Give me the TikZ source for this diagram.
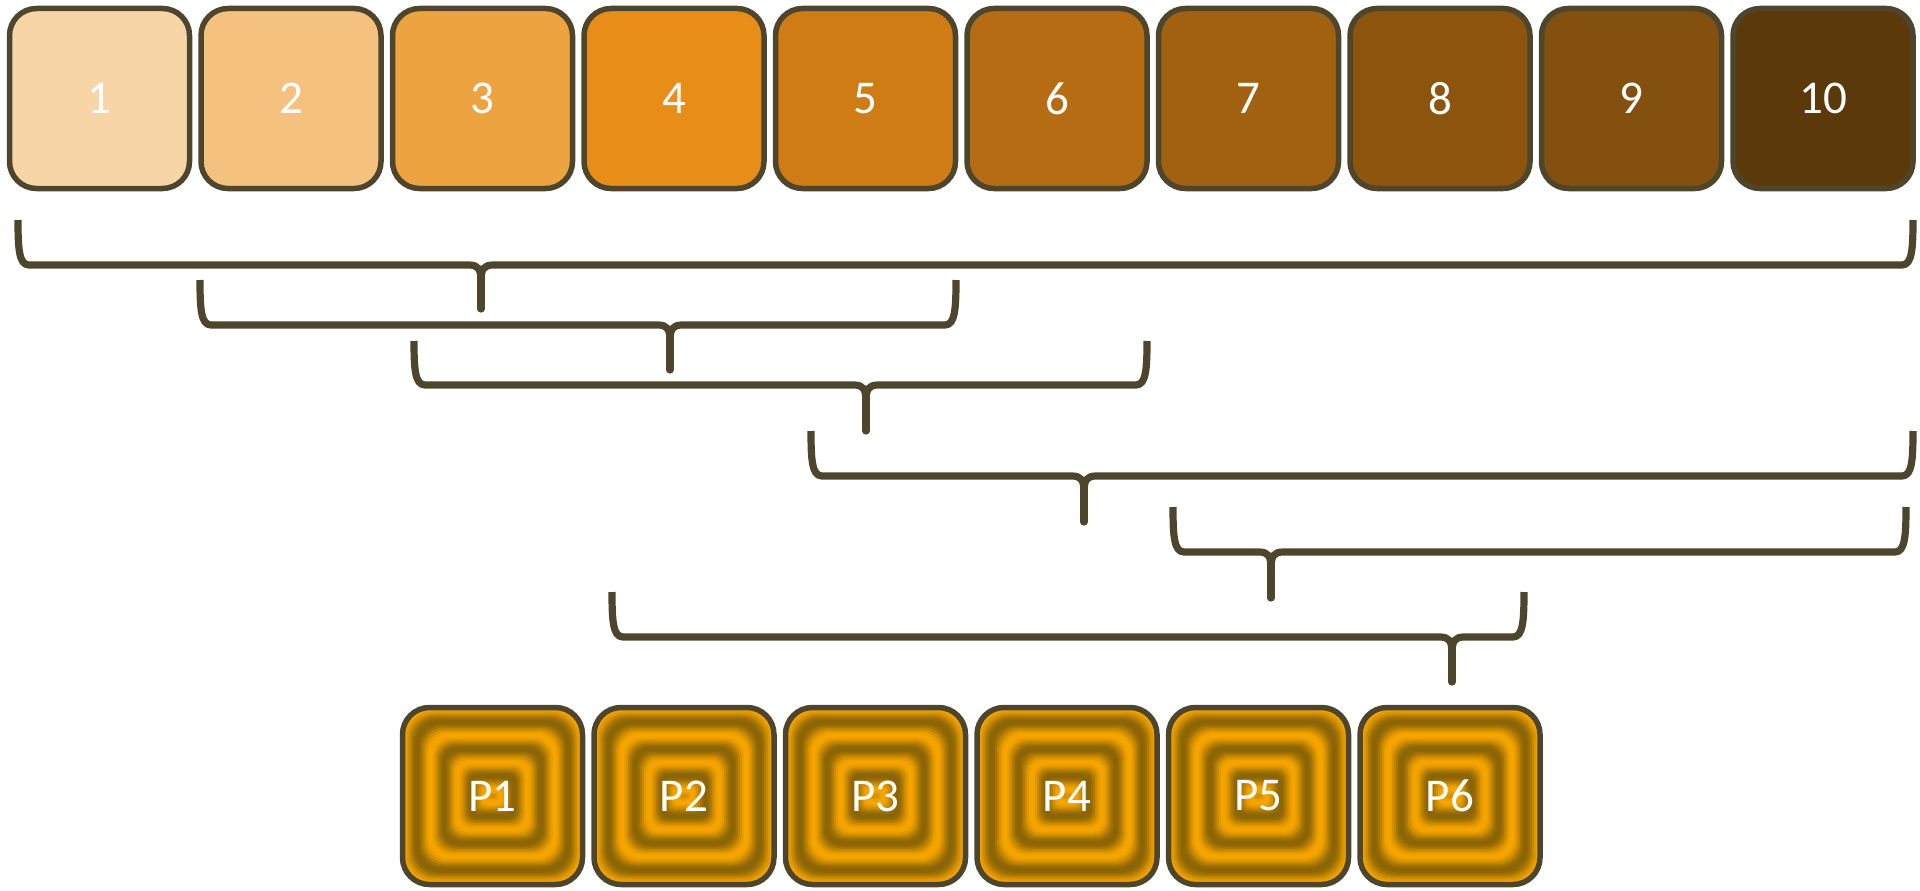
\documentclass[tikz,border=0pt]{standalone}
\usepackage{fontspec}
\setmainfont{Carlito}
\definecolor{bord}{HTML}{4D462C}
\definecolor{c1}{HTML}{F7D5A7}
\definecolor{c2}{HTML}{F4C17E}
\definecolor{c3}{HTML}{EDA340}
\definecolor{c4}{HTML}{E88D17}
\definecolor{c5}{HTML}{CF7C16}
\definecolor{c6}{HTML}{B66C12}
\definecolor{c7}{HTML}{A26110}
\definecolor{c8}{HTML}{8D540D}
\definecolor{c9}{HTML}{83500F}
\definecolor{c10}{HTML}{5C390B}
\definecolor{porange}{HTML}{F8A500}
\definecolor{pdark}{HTML}{8A6406}
\newcommand\mybrace[6]{%
  \draw[brace] (#1,#3) .. controls (#1,#4-16) and (#1+1,#4) .. (#1+11,#4) -- (#5-12,#4)
      .. controls (#5-3,#4) and (#5,#4+4) .. (#5,#4+16);
  \draw[brace] (#2,#3) .. controls (#2,#4-16) and (#2-1,#4) .. (#2-11,#4) -- (#5+12,#4)
      .. controls (#5+3,#4) and (#5,#4+4) .. (#5,#4+16);
  \draw[brace, line cap=round] (#5,#4+12) -- (#5,#6-3);
}
\begin{document}
\begin{tikzpicture}[x=1pt,y=-1pt]
\tikzset{
  box/.style={draw=bord, line width=5.5pt, rounded corners=27pt, minimum width=180pt,
    minimum height=180pt, inner sep=0pt, text=white, font=\fontsize{47}{47}\selectfont},
  pbox/.style={box, minimum height=177pt},
  brace/.style={draw=bord, line width=7.2pt, line join=round},
}
\useasboundingbox (0,0) rectangle (1920,891);
% top row
\foreach \i in {1,...,10}{
  \node[box, fill=c\i] (t\i) at ({99.5+(\i-1)*191.5}, 98.5) {\i};
}
% braces: L, R, top, h, cusp x, tip bottom
\mybrace{18}{1913}{220}{265}{481}{312}
\mybrace{200}{956}{280}{325}{670}{373}
\mybrace{414}{1147}{341}{385}{866}{434}
\mybrace{811}{1913}{431}{476}{1084}{525}
\mybrace{1173}{1906}{507}{552}{1271}{601}
\mybrace{612}{1524}{592}{637}{1452}{685}
% bottom row
\foreach \j in {1,...,6}{
  \pgfmathsetmacro\cx{492.5+(\j-1)*191.5}
  \begin{scope}[shift={(\cx,796)}]
  \foreach \k in {0,2,...,86}{
    \pgfmathtruncatemacro\pct{50+50*cos(\k*13.3333)}
    \pgfmathsetmacro\rr{min(max(27-\k*0.28,2),(88.5-\k)*0.9)}
    \fill[porange!\pct!pdark, rounded corners=\rr pt]
      ({-90+\k}, {-88.5+\k}) rectangle ({90-\k}, {88.5-\k});
  }
  \end{scope}
  \node[pbox] (p\j) at (\cx,796) {P\j};
}
\end{tikzpicture}
\end{document}
